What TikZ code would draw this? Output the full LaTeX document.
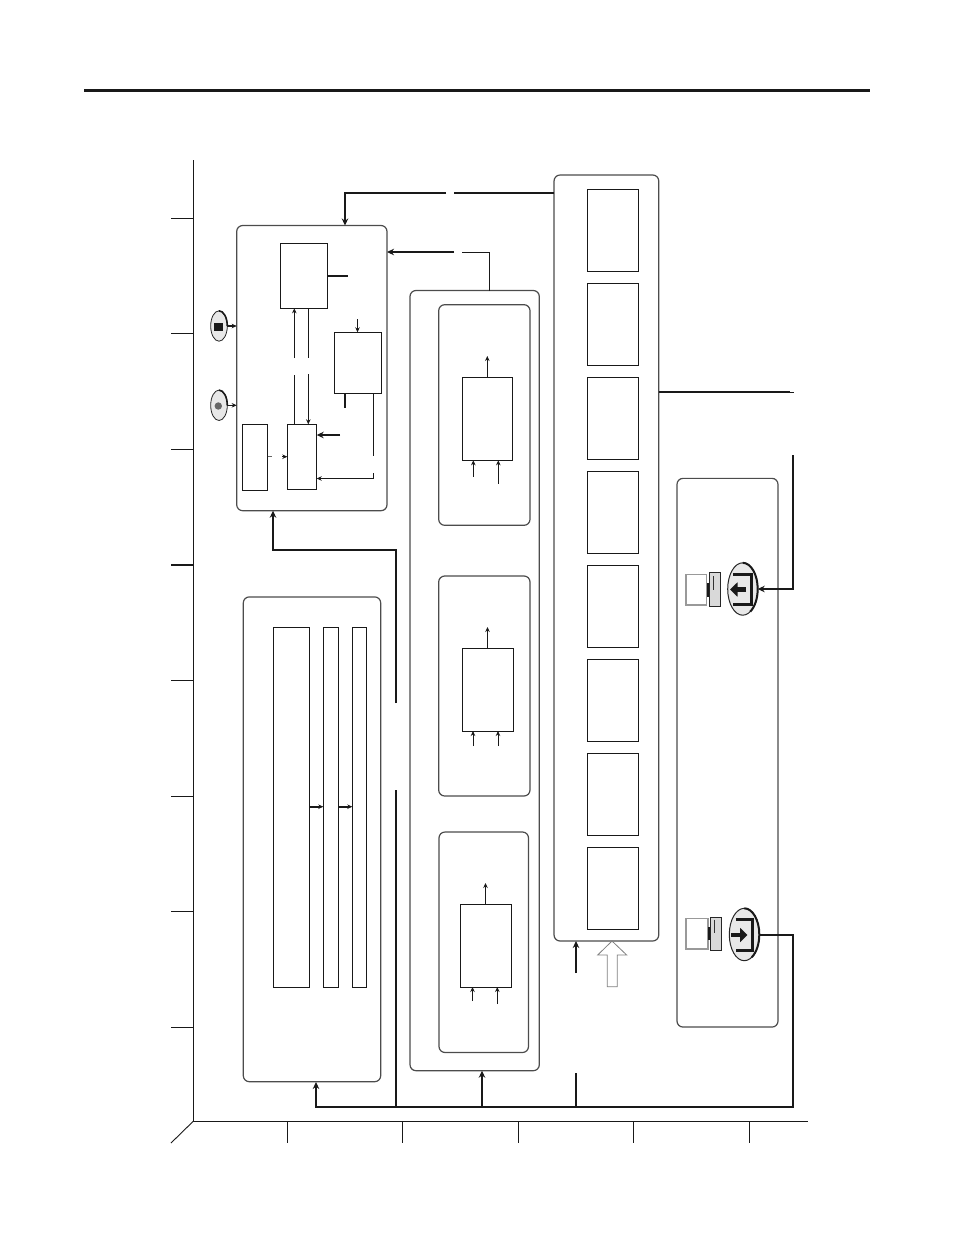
\documentclass[tikz,border=0pt]{standalone}
\usepackage{xcolor}
\usepackage{tikz}
\usetikzlibrary{arrows.meta,shapes.geometric}

\begin{document}
\begin{tikzpicture}[
		x=1pt, y=-1pt,
		panel/.style={rectangle, draw=black!70, line width=1.2pt, rounded corners=6pt, outer sep=0pt, inner sep=0pt},
		block/.style={rectangle, draw=black!90, line width=1pt, outer sep=0pt, inner sep=0pt},
		button/.style={ellipse, draw=black!85, line width=0.8pt, fill=black!9, outer sep=0pt, inner sep=0pt, minimum width=16.6pt, minimum height=30.4pt},
		port/.style={ellipse, draw=black!85, line width=1pt, fill=black!9, outer sep=0pt, inner sep=0pt, minimum width=30pt, minimum height=52.4pt},
		screen/.style={rectangle, draw=black!40, line width=1.2pt, fill=white, outer sep=0pt, inner sep=0pt},
		tower/.style={rectangle, draw=black!85, line width=0.8pt, fill=black!15, outer sep=0pt, inner sep=0pt},
		plug/.style={rectangle, fill=black!90, outer sep=0pt, inner sep=0pt},
		wire/.style={line width=1pt, black!90},
		arrow/.style={wire, -{Stealth[length=5pt, width=4.5pt]}},
		bus/.style={line width=2pt, black!90},
		busarrow/.style={bus, -{Stealth[length=7pt, width=6.5pt]}},
		axisline/.style={line width=0.9pt, black!90},
		bracket/.style={line width=3pt, black!90},
		portarrow/.style={line width=4.5pt, black!90, -{Triangle[length=7.5pt, width=14pt]}},
		hollow/.style={line width=0.8pt, draw=black!50, fill=white}
	]
		\useasboundingbox (0,0) rectangle (954,1235);

		% Page rule
		\draw[line width=3pt, black!90] (84,90) -- (870,90);

		% Axes
		\draw[axisline] (193.5,160) -- (193.5,1121) -- (808,1121);
		\draw[axisline] (193.5,1121) -- (171,1143);
		\draw[axisline] (171,218) -- (193.5,218);
		\draw[axisline] (171,333) -- (193.5,333);
		\draw[axisline] (171,449) -- (193.5,449);
		\draw[axisline, line width=1.4pt] (171,565) -- (193.5,565);
		\draw[axisline] (171,680) -- (193.5,680);
		\draw[axisline] (171,796) -- (193.5,796);
		\draw[axisline] (171,911) -- (193.5,911);
		\draw[axisline] (171,1027) -- (193.5,1027);
		\draw[axisline] (287,1121) -- (287,1143);
		\draw[axisline] (402.5,1121) -- (402.5,1143);
		\draw[axisline] (518,1121) -- (518,1143);
		\draw[axisline] (633.5,1121) -- (633.5,1143);
		\draw[axisline] (749,1121) -- (749,1143);

		% Control panel
		\node[panel, minimum width=150.3pt, minimum height=285.2pt] (control) at (311.85,368.1) {};
		\node[block, minimum width=47.4pt, minimum height=65pt] (upper) at (304,275.8) {};
		\node[block, minimum width=47.4pt, minimum height=61pt] (side) at (358,362.8) {};
		\node[block, minimum width=25.4pt, minimum height=66pt] (feeder) at (255,457.3) {};
		\node[block, minimum width=29.4pt, minimum height=65pt] (lower) at (302,456.8) {};

		% Buttons
		\node[button] (stop) at (219,326) {};
		\node[rectangle, fill=black!90, minimum width=9pt, minimum height=8pt, inner sep=0pt] (stopmark) at (218.5,327) {};
		\node[button] (start) at (219,405.3) {};
		\node[circle, fill=black!60, minimum size=7.4pt, inner sep=0pt] (startmark) at (218.3,406) {};
		\draw[line width=1.6pt, black!90] (stop.north) arc[start angle=90, end angle=0, x radius=8.3pt, y radius=15.2pt];
		\draw[line width=1.6pt, black!90] (start.north) arc[start angle=90, end angle=0, x radius=8.3pt, y radius=15.2pt];

		% Memory panel
		\node[panel, minimum width=137.4pt, minimum height=484.8pt] (memory) at (312,839.3) {};
		\node[block, minimum width=36pt, minimum height=360pt] (barone) at (291.3,807) {};
		\node[block, minimum width=15pt, minimum height=360pt] (bartwo) at (330.8,807) {};
		\node[block, minimum width=14pt, minimum height=360pt] (barthree) at (359.3,807) {};

		% Middle panel
		\node[panel, minimum width=129.3pt, minimum height=780.2pt] (middle) at (474.65,680.6) {};
		\node[panel, minimum width=91.3pt, minimum height=220.6pt] (subone) at (484.35,415) {};
		\node[panel, minimum width=91.3pt, minimum height=220pt] (subtwo) at (484.35,686) {};
		\node[panel, minimum width=89.5pt, minimum height=220.5pt] (subthree) at (483.75,942.25) {};
		\node[block, minimum width=50.4pt, minimum height=83pt] (unitone) at (487.5,418.8) {};
		\node[block, minimum width=51pt, minimum height=83pt] (unittwo) at (487.5,689.5) {};
		\node[block, minimum width=51pt, minimum height=83pt] (unitthree) at (485.5,945.5) {};

		% Tall panel
		\node[panel, minimum width=104.7pt, minimum height=766pt] (tall) at (606.4,558) {};
		\node[block, minimum width=51.4pt, minimum height=82pt] (slotone) at (613,230.5) {};
		\node[block, minimum width=51.4pt, minimum height=82pt] (slottwo) at (613,324.5) {};
		\node[block, minimum width=51.4pt, minimum height=82pt] (slotthree) at (613,418.5) {};
		\node[block, minimum width=51.4pt, minimum height=82pt] (slotfour) at (613,512.5) {};
		\node[block, minimum width=51.4pt, minimum height=82pt] (slotfive) at (613,606.5) {};
		\node[block, minimum width=51.4pt, minimum height=82pt] (slotsix) at (613,700.5) {};
		\node[block, minimum width=51.4pt, minimum height=82pt] (slotseven) at (613,794.5) {};
		\node[block, minimum width=51.4pt, minimum height=82pt] (sloteight) at (613,888.5) {};

		% Right panel
		\node[panel, minimum width=101pt, minimum height=548.7pt] (right) at (727.5,752.7) {};

		% Upper station
		\node[screen, minimum width=20.7pt, minimum height=30.7pt] (screenin) at (696.3,589.6) {};
		\node[plug, minimum width=3pt, minimum height=14pt] (plugin) at (708,590) {};
		\node[tower, minimum width=11pt, minimum height=34.4pt] (towerin) at (714.5,589.5) {};
		\draw[line width=1.4pt, black!80] (713.3,576) -- (713.3,590);
		\node[port] (portin) at (742.7,589) {};
		\draw[line width=2pt, black!90] (portin.north) arc[start angle=90, end angle=-60, x radius=15pt, y radius=26.2pt];
		\draw[bracket] (733,574.3) -| (751.4,604.3) -- (733,604.3);
		\draw[portarrow] (746,589.5) -- (730,589.5);

		% Lower station
		\node[screen, minimum width=22pt, minimum height=30.7pt] (screenout) at (697,933.7) {};
		\node[plug, minimum width=3pt, minimum height=13pt] (plugout) at (709.3,933.5) {};
		\node[tower, minimum width=10.7pt, minimum height=33.7pt] (towerout) at (715.6,933.8) {};
		\draw[line width=1.4pt, black!80] (714.3,919.5) -- (714.3,933);
		\node[port] (portout) at (744.3,934.5) {};
		\draw[line width=2pt, black!90] (portout.north) arc[start angle=90, end angle=-60, x radius=15pt, y radius=26.2pt];
		\draw[bracket] (735.7,919.3) -| (752.3,950) -- (735.7,950);
		\draw[portarrow] (731,935) -- (747.5,935);

		% Break points and free ends
		\coordinate (topbreaka) at (446,192.7);
		\coordinate (topbreakb) at (454,192.7);
		\coordinate (toptip) at (345,225);
		\coordinate (midbreaka) at (454,252);
		\coordinate (midbreakb) at (462,252);
		\coordinate (midriser) at (489.5,252);
		\coordinate (upperstub) at (348,276);
		\coordinate (leftupa) at (294.3,375);
		\coordinate (leftupb) at (294.3,358);
		\coordinate (leftdowna) at (308.3,358);
		\coordinate (leftdownb) at (308.3,374);
		\coordinate (sidein) at (357.5,319);
		\coordinate (sidestub) at (345,407.5);
		\coordinate (sideouta) at (373.5,455.5);
		\coordinate (sideoutb) at (373.5,473);
		\coordinate (sidebend) at (373.5,478.5);
		\coordinate (lowerstub) at (340,435);
		\coordinate (feedstub) at (272,456.7);
		\coordinate (feedtail) at (282,456.7);
		\coordinate (barrow) at (0,806.7);
		\coordinate (controlfeed) at (273,550);
		\coordinate (controlbreak) at (396,703);
		\coordinate (busbreak) at (396,790);
		\coordinate (bustap) at (396,1106.7);
		\coordinate (memorytip) at (316,1082);
		\coordinate (middletap) at (482,1106.7);
		\coordinate (talltap) at (576,1106.7);
		\coordinate (tallstub) at (576,1073);
		\coordinate (tallin) at (576,973);
		\coordinate (buscorner) at (793,1106.7);
		\coordinate (linkend) at (790,392);
		\coordinate (linktail) at (794,392);
		\coordinate (returntop) at (793,455);
		\coordinate (oneupend) at (487.3,356);
		\coordinate (oneina) at (473.3,476.7);
		\coordinate (oneinb) at (498.3,483.7);
		\coordinate (twoupend) at (487.5,627);
		\coordinate (twoina) at (473,746);
		\coordinate (twoinb) at (498,746);
		\coordinate (threeupend) at (485.5,883);
		\coordinate (threeina) at (472.5,1001);
		\coordinate (threeinb) at (497.3,1004);

		% Arrows
		\draw[bus] (tall.west |- topbreakb) -- (topbreakb);
		\draw[busarrow] (topbreaka) -| (toptip |- control.north);
		\draw[wire] (middle.north -| midriser) -- (midriser) -- (midbreakb);
		\draw[busarrow, line width=1.7pt] (midbreaka) -- (midbreaka -| control.east);
		\draw[bus, line width=1.6pt] (upper.east |- upperstub) -- (upperstub);
		\draw[wire] (lower.north -| leftupa) -- (leftupa);
		\draw[arrow] (leftupb) -- (leftupb |- upper.south);
		\draw[wire] (upper.south -| leftdowna) -- (leftdowna);
		\draw[arrow] (leftdownb) -- (leftdownb |- lower.north);
		\draw[arrow] (sidein) -- (sidein |- side.north);
		\draw[bus] (side.south -| sidestub) -- (sidestub);
		\draw[wire] (side.south -| sideouta) -- (sideouta);
		\draw[arrow] (sideoutb) -- (sidebend) -- (sidebend -| lower.east);
		\draw[busarrow, line width=1.6pt] (lowerstub) -- (lowerstub -| lower.east);
		\draw[wire, black!60] (feeder.east |- feedstub) -- (feedstub);
		\draw[arrow] (feedtail) -- (feedtail -| lower.west);
		\draw[arrow, line width=1.6pt] (stop.east) -- (stop.east -| control.west);
		\draw[arrow, line width=1.6pt] (start.east) -- (start.east -| control.west);
		\draw[arrow, line width=2pt] (barone.east |- barrow) -- (bartwo.west |- barrow);
		\draw[arrow, line width=2pt] (bartwo.east |- barrow) -- (barthree.west |- barrow);
		\draw[arrow] (unitone.north -| oneupend) -- (oneupend);
		\draw[arrow] (oneina) -- (oneina |- unitone.south);
		\draw[arrow] (oneinb) -- (oneinb |- unitone.south);
		\draw[arrow] (unittwo.north -| twoupend) -- (twoupend);
		\draw[arrow] (twoina) -- (twoina |- unittwo.south);
		\draw[arrow] (twoinb) -- (twoinb |- unittwo.south);
		\draw[arrow] (unitthree.north -| threeupend) -- (threeupend);
		\draw[arrow] (threeina) -- (threeina |- unitthree.south);
		\draw[arrow] (threeinb) -- (threeinb |- unitthree.south);
		\draw[busarrow] (controlbreak) |- (controlfeed) -- (controlfeed |- control.south);
		\draw[bus] (busbreak) -- (bustap);
		\draw[busarrow] (portout.east) -| (buscorner) -| (memorytip);
		\draw[busarrow] (middletap) -- (middletap |- middle.south);
		\draw[bus] (talltap) -- (tallstub);
		\draw[busarrow] (tallin) -- (tallin |- tall.south);
		\draw[bus, line width=1.8pt] (tall.east |- linkend) -- (linkend);
		\draw[wire] (linkend) -- (linktail);
		\draw[busarrow] (returntop) |- (portin.east);

		% Hollow arrow
		\filldraw[hollow] (612,941) -- (626.7,955) -- (617.3,955) -- (617.3,986.7) -- (607.3,986.7) -- (607.3,955) -- (597.7,955) -- cycle;
	\end{tikzpicture}
\end{document}
